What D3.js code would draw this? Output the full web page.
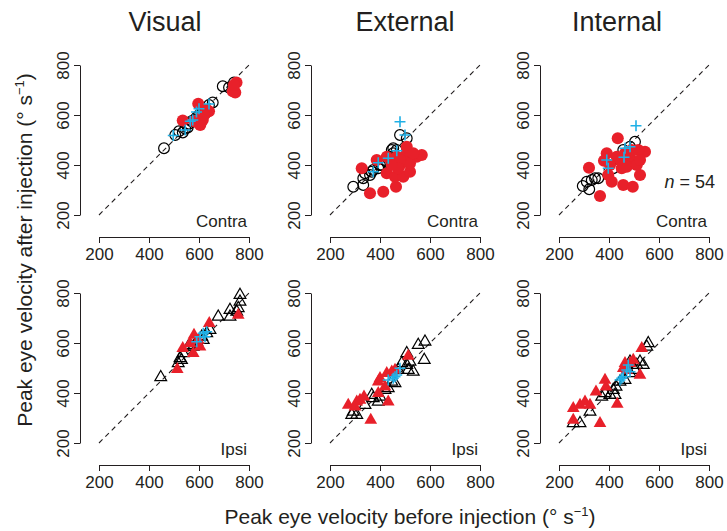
<!DOCTYPE html>
<html>
<head>
<meta charset="utf-8">
<script src="https://cdn.jsdelivr.net/npm/d3@7"></script>
<style>
body { margin: 0; background: #fff; }
text { font-family: "Liberation Sans", Arial, sans-serif; fill: #231f20; }
</style>
</head>
<body>
<script>
// tick labels and panel titles
var tickVals = [200, 400, 600, 800];
var columns = ["Visual", "External", "Internal"];
var rows = ["Contra", "Ipsi"];

// [before, after] pairs
var visualContraOpen = [[460,467],[505,520],[520,535],[535,530],[545,545],[555,550],[560,565],[570,575],[580,580],[590,590],[600,600],[610,605],[620,615],[630,620],[640,640],[655,650],[695,715],[740,730],[720,710]];
var visualContraRed = [[535,578],[580,575],[597,645],[600,565],[610,590],[615,580],[625,605],[630,620],[640,615],[605,560],[620,600],[735,695],[745,690],[750,730],[740,720]];
var visualContraCyan = [[497,518],[545,540],[565,575],[575,580],[590,612],[640,644],[600,625]];

var externalContraOpen = [[293,313],[333,320],[333,347],[340,367],[360,360],[367,373],[373,380],[393,387],[400,400],[420,420],[427,413],[440,433],[447,460],[453,467],[467,460],[480,520],[507,507],[453,447],[407,400]];
var externalContraRed = [[327,387],[360,287],[413,293],[464,313],[387,420],[427,367],[460,353],[480,400],[493,353],[520,373],[460,407],[467,433],[507,447],[520,433],[547,433],[567,440],[500,413],[520,407],[480,420],[507,473],[533,447],[473,387],[447,400],[427,433]];
var externalContraCyan = [[480,573],[500,520],[467,457],[433,427],[393,409],[373,373]];

var internalContraOpen = [[295,316],[321,303],[311,333],[331,340],[344,347],[357,347],[411,420],[417,387],[457,460],[504,493],[484,473]];
var internalContraRed = [[364,276],[320,389],[435,507],[391,447],[380,417],[397,360],[411,333],[457,320],[495,313],[524,360],[544,453],[517,460],[484,433],[497,407],[471,393],[444,420],[511,400],[524,420],[431,433],[464,447],[491,460],[404,400],[451,387]];
var internalContraCyan = [[508,557],[484,473],[464,467],[460,431],[391,420],[397,387]];

var visualIpsiOpen = [[447,463],[517,519],[524,539],[537,559],[557,585],[564,592],[591,605],[611,625],[631,639],[644,652],[677,705],[724,705],[724,732],[757,739],[764,765],[764,792],[751,725],[617,612],[577,585],[530,532]];
var visualIpsiRed = [[513,495],[535,579],[577,559],[580,632],[604,585],[641,679],[757,712],[564,599],[597,612]];
var visualIpsiCyan = [[591,605],[604,625],[617,639],[631,645],[624,625]];

var externalIpsiOpen = [[287,312],[307,312],[293,325],[340,352],[367,392],[373,379],[393,365],[400,385],[420,412],[433,419],[447,445],[460,439],[473,492],[487,519],[507,559],[520,525],[513,492],[533,485],[553,592],[580,605],[577,532],[507,512]];
var externalIpsiRed = [[273,352],[300,345],[320,372],[336,385],[363,292],[393,399],[393,445],[400,459],[427,479],[433,365],[447,485],[460,492],[513,548],[420,425],[307,365]];
var externalIpsiCyan = [[433,452],[460,465],[467,472],[480,499],[453,459]];

var internalIpsiOpen = [[257,279],[284,279],[324,325],[371,385],[384,399],[404,392],[417,412],[428,425],[424,392],[444,445],[464,452],[484,479],[484,525],[504,492],[524,525],[537,512],[551,585],[557,599],[511,512]];
var internalIpsiRed = [[257,339],[257,292],[284,352],[304,365],[324,352],[348,405],[364,279],[384,452],[388,425],[433,356],[457,499],[464,519],[484,519],[497,532],[524,472],[531,579],[471,492]];
var internalIpsiCyan = [[444,452],[457,465],[471,492],[477,512],[484,485],[451,459]];

var panels = [
  [visualContraOpen, visualContraRed, visualContraCyan],
  [externalContraOpen, externalContraRed, externalContraCyan],
  [internalContraOpen, internalContraRed, internalContraCyan],
  [visualIpsiOpen, visualIpsiRed, visualIpsiCyan],
  [externalIpsiOpen, externalIpsiRed, externalIpsiCyan],
  [internalIpsiOpen, internalIpsiRed, internalIpsiCyan]
];

var red = "#e8202a", cyan = "#1fb0e6", ink = "#231f20";
var colX = [80, 311, 540];          // y-axis position of each column
var titleX = [165, 405, 617];       // title centres
var rowY = [[215, 65], [443, 293]]; // y range of each row

var svg = d3.select("body").append("svg")
    .attr("width", 727)
    .attr("height", 531);

var plus = {
  draw: function (ctx, size) {
    var r = Math.sqrt(size) / 2;
    ctx.moveTo(-r, 0); ctx.lineTo(r, 0);
    ctx.moveTo(0, -r); ctx.lineTo(0, r);
  }
};

panels.forEach(function (sets, i) {
  var col = i % 3, row = Math.floor(i / 3);
  var x0 = colX[col];
  var x = d3.scaleLinear().domain([200, 800]).range([x0 + 19, x0 + 169]);
  var y = d3.scaleLinear().domain([200, 800]).range(rowY[row]);
  var g = svg.append("g");

  var ya = g.append("g")
      .attr("transform", "translate(" + x0 + ",0)")
      .call(d3.axisLeft(y).tickValues(tickVals).tickSize(6).tickSizeOuter(0));
  ya.selectAll("text")
      .attr("transform", "rotate(-90)")
      .attr("x", 0).attr("y", -11).attr("dy", 0)
      .style("text-anchor", "middle");

  var xa = g.append("g")
      .attr("transform", "translate(0," + (rowY[row][0] + 22) + ")")
      .call(d3.axisBottom(x).tickValues(tickVals).tickSize(6).tickSizeOuter(0));
  xa.selectAll("text").attr("y", 11).attr("dy", "0.71em");

  g.selectAll(".domain, .tick line").attr("stroke", ink);
  g.selectAll(".tick text").attr("font-size", 17).attr("fill", ink)
      .attr("font-family", "Liberation Sans, Arial, sans-serif");

  g.append("path")
      .datum([200, 800])
      .attr("d", d3.line().x(d => x(d)).y(d => y(d)))
      .attr("stroke", ink)
      .attr("stroke-width", 1.1)
      .attr("stroke-dasharray", "5,4")
      .attr("fill", "none");

  var shape = row === 0 ? d3.symbolCircle : d3.symbolTriangle;
  g.selectAll(".open").data(sets[0]).enter().append("path")
      .attr("transform", d => "translate(" + x(d[0]) + "," + y(d[1]) + ")")
      .attr("d", d3.symbol().type(shape).size(row === 0 ? 90 : 60))
      .attr("fill", "none").attr("stroke", "#000").attr("stroke-width", 1.2);
  g.selectAll(".red").data(sets[1]).enter().append("path")
      .attr("transform", d => "translate(" + x(d[0]) + "," + y(d[1]) + ")")
      .attr("d", d3.symbol().type(shape).size(row === 0 ? 115 : 70))
      .attr("fill", red);
  g.selectAll(".cyan").data(sets[2]).enter().append("path")
      .attr("transform", d => "translate(" + x(d[0]) + "," + y(d[1]) + ")")
      .attr("d", d3.symbol().type(plus).size(120))
      .attr("stroke", cyan).attr("stroke-width", 1.6).attr("fill", "none");

  g.append("text")
      .attr("x", x(800) - 2)
      .attr("y", rowY[row][0] + 12)
      .attr("text-anchor", "end")
      .attr("font-size", 17)
      .text(rows[row]);

  if (i === 2) {
    var t = g.append("text")
        .attr("x", x(800) + 6)
        .attr("y", y(800) + 123)
        .attr("text-anchor", "end")
        .attr("font-size", 18);
    t.append("tspan").attr("font-style", "italic").text("n");
    t.append("tspan").text(" = 54");
  }

  if (row === 0) {
    svg.append("text")
        .attr("x", titleX[col])
        .attr("y", 31)
        .attr("text-anchor", "middle")
        .attr("font-size", 27)
        .text(columns[col]);
  }
});

var xl = svg.append("text")
    .attr("x", 410)
    .attr("y", 524)
    .attr("text-anchor", "middle")
    .attr("font-size", 21);
xl.append("tspan").text("Peak eye velocity before injection (° s");
xl.append("tspan").attr("font-size", 13).attr("dy", -8).text("\u22121");
xl.append("tspan").attr("dy", 8).text(")");

var yl = svg.append("text")
    .attr("transform", "translate(32,250) rotate(-90)")
    .attr("text-anchor", "middle")
    .attr("font-size", 21);
yl.append("tspan").text("Peak eye velocity after injection (° s");
yl.append("tspan").attr("font-size", 13).attr("dy", -8).text("\u22121");
yl.append("tspan").attr("dy", 8).text(")");
</script>
</body>
</html>
